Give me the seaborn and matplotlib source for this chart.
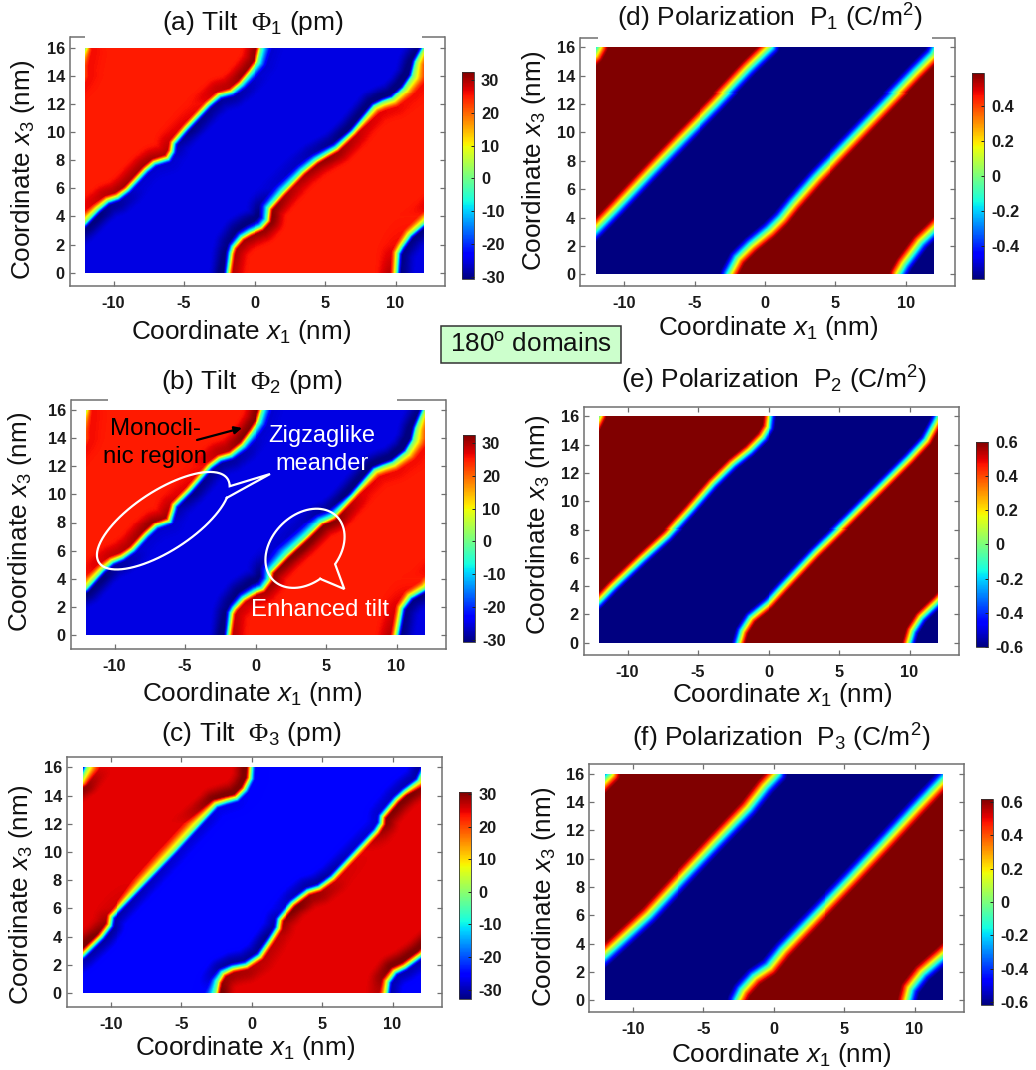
import numpy as np
import pandas as pd
import matplotlib
matplotlib.use("Agg")
import matplotlib.pyplot as plt
import seaborn as sns

# NOTE ON THE DATA: the values below are hand readings from the reference picture:
# domain-wall traces (x1 at each x3), shoulder extrema and wall half-widths.
# The heatmap cells are NOT individual readings: they are reconstructed from those traces
# with a distance-to-wall profile, since a continuous field cannot be read cell by cell.
# Wall A has red on its left, wall B has blue on its left. Both wrap with period 24 nm,
# so A's part in the lower right corner is written as x1 - 24, B's top-left part as x1 + 24.

X1_TICKS = [-10, -5, 0, 5, 10]
X3_TICKS = [0, 2, 4, 6, 8, 10, 12, 14, 16]
SHOULDER_X3 = [0, 2, 4, 6, 8, 10, 12, 14, 16]
RAMP_T = [0, 0.25, 0.5, 0.75, 1.0]
RAMP_F = [0, 0.3, 0.6, 0.85, 1.0]

# (a) Phi1
A1_X3 = [0, 1.4, 1.85, 2.7, 3.55, 4.5, 5.1, 5.35, 5.9, 7.3, 7.8, 8.1, 8.6, 9.2, 10.25, 11.9, 12.6, 12.85, 13.45, 14.3, 15, 16]
A1_X1 = [-13.95, -13.85, -13.6, -13, -12, -11.1, -10.4, -9.7, -9, -7.7, -7.1, -6.15, -5.85, -5.75, -4.85, -3.3, -2.5, -1.65, -0.95, -0.25, 0.25, 0.47]
B1_X3 = [0, 1.4, 1.85, 2.55, 2.9, 3.27, 3.75, 4.6, 5.75, 7.2, 8, 8.5, 8.85, 10, 11.8, 12.1, 12.35, 13.1, 14, 15, 16]
B1_X1 = [-1.9, -1.7, -1.55, -0.95, -0.35, 0.47, 0.9, 1, 2, 3.4, 4.37, 5.2, 5.8, 7, 8.5, 9.1, 9.8, 10.6, 11.2, 11.45, 12]
A1_RED = [29, 26, 25, 30, 30, 27, 26, 31, 31]
A1_BLUE = [-30, -30, -31, -26, -26, -30, -29, -26, -26]
B1_RED = [29, 30, 32, 29, 31, 28, 26, 26, 26]
B1_BLUE = [-32, -30, -31, -26, -27, -31, -31, -32, -30]
A1_RW = [.4, .4, .55, .3, .3, .3, .3, .3, .3]
A1_BW = [.3, .3, .3, .3, .3, .3, .3, .5, .7]
B1_RW = [.3, .3, .3, .3, .3, .3, .6, .9, .4]
B1_BW = [.3, .35, .55, .6, .5, .3, .3, .3, .3]

# (b) Phi2
A2_X3 = [0, 1.9, 2.7, 3.3, 4.6, 5.2, 5.5, 6.05, 7.1, 7.75, 8.1, 8.9, 9.25, 10.3, 12, 12.55, 12.8, 13.5, 14.45, 15.15, 16]
A2_X1 = [-14, -13.65, -13.05, -12, -10.85, -10.15, -9.45, -8.7, -7.75, -7.05, -6.1, -5.85, -5.75, -4.7, -3.25, -2.55, -1.75, -0.9, -0.2, 0.25, 0.5]
B2_X3 = [0, 1.55, 1.9, 2.6, 3.1, 3.3, 3.9, 4.5, 5.7, 7, 8.05, 8.45, 9.95, 11.75, 12, 12.25, 13, 13.85, 14.7, 16]
B2_X1 = [-1.95, -1.75, -1.55, -0.9, -0.05, 0.5, 0.95, 1.05, 2.2, 3.6, 4.65, 5.5, 6.9, 8.45, 9.05, 9.75, 10.7, 11.2, 11.4, 11.95]
A2_RED = [29, 27, 25, 29, 31, 27, 26, 32, 32]
A2_BLUE = [-30, -30, -31, -26, -26, -30, -29, -26, -26]
B2_RED = [29, 28, 31, 33, 32, 27, 26, 26, 26]
B2_BLUE = [-32, -30, -31, -26, -27, -31, -31, -32, -30]
A2_RW = [.4, .4, .55, .3, .3, .3, .3, .3, .3]
A2_BW = [.3, .3, .3, .3, .3, .3, .3, .5, .6]
B2_RW = [.3, .3, .3, .3, .3, .3, .6, .9, .4]
B2_BW = [.3, .35, .55, .8, .7, .3, .3, .3, .3]

# (c) Phi3
A3_X3 = [0, 0.8, 1.5, 1.85, 2.7, 4, 4.8, 5.4, 6.5, 10, 13.35, 13.6, 13.8, 14.4, 15.2, 16]
A3_X1 = [-14.45, -14.35, -13.85, -13.15, -12, -10.7, -10.1, -10, -8.95, -5.6, -2.55, -1.8, -1.1, -0.5, -0.1, -0.05]
B3_X3 = [0, 0.8, 1.4, 1.75, 1.95, 2.6, 3.65, 4.6, 5.2, 6.35, 7.2, 7.45, 8.15, 11.45, 12, 12.5, 13.7, 14.25, 15, 16]
B3_X1 = [-2.55, -2.4, -2.05, -1.35, -0.4, 0.55, 1.25, 1.85, 1.95, 2.9, 4, 4.8, 5.75, 8.85, 9.2, 9.25, 10.25, 10.85, 11.85, 12.3]
A3_RED = [27, 31, 31, 26, 25, 25, 25, 31, 31]
A3_BLUE = [-30, -30, -31, -30, -29, -28, -28, -26, -26]
B3_RED = [31, 27, 27, 31, 26, 25, 30, 31, 25]
B3_BLUE = [-25, -31, -32, -28, -31, -29, -28, -29, -31]
A3_RW = [.45, .35, .3, .3, .6, .7, .7, .3, .3]
A3_BW = [.3, .3, .3, .3, .3, .3, .3, .3, .3]
B3_RW = [.3, .3, .3, .3, .3, .3, .3, .3, .8]
B3_BW = [.7, .35, .3, .3, .3, .3, .3, .3, .3]

# (d) P1
A4_X3 = [0, 0.7, 1.5, 2.25, 3.15, 4.6, 7.1, 9.55, 12, 14.5, 15.55, 16]
A4_X1 = [-14.5, -14.1, -13.5, -12.95, -12, -10.6, -8.25, -5.9, -3.5, -1.15, -0.07, 0.4]
B4_X3 = [0, 1.13, 2.06, 3.12, 3.95, 5, 6.85, 9.3, 11.8, 14.25, 15.45, 16]
B4_X1 = [-2.54, -1.94, -1, 0.3, 1.13, 1.97, 3.6, 5.95, 8.35, 10.7, 11.9, 12.2]

# (e) P2
A5_X3 = [0, 0.85, 1.8, 2.95, 4, 6, 7.59, 9.3, 11.2, 12.6, 13.55, 14.5, 15.2, 16]
A5_X1 = [-14.05, -13.8, -13.2, -12, -11, -8.9, -7.15, -5.6, -3.96, -2.55, -1.36, -0.42, 0, 0.1]
B5_X3 = [0, 0.85, 1.8, 2.85, 3.9, 6.4, 8.75, 11.1, 13, 14.3, 15.5, 16]
B5_X1 = [-2.15, -1.9, -1.3, 0, 0.95, 3.3, 5.7, 8.05, 9.95, 11.15, 11.8, 12.05]

# (f) P3
A6_X3 = [0, 0.8, 1.9, 3.15, 6, 8.6, 11.1, 13.55, 15.1, 16]
A6_X1 = [-14.5, -14.3, -13.45, -12, -8.9, -6.5, -4.15, -1.8, -0.6, 0.25]
B6_X3 = [0, 0.7, 1.65, 2.35, 3.55, 6, 8.5, 11, 13.55, 15.45, 16]
B6_X1 = [-2.6, -2.25, -1.4, -0.35, 0.6, 2.95, 5.35, 7.7, 10.05, 11.85, 12.4]

TILT_TICKS = [-30, -20, -10, 0, 10, 20, 30]
POL_TICKS = [-0.6, -0.4, -0.2, 0, 0.2, 0.4, 0.6]
POL_TICK_LABELS = ["-0.6", "-0.4", "-0.2", "0", "0.2", "0.4", "0.6"]
POL_D_TICKS = [-0.4, -0.2, 0, 0.2, 0.4]
POL_D_LABELS = ["-0.4", "-0.2", "0", "0.2", "0.4"]
TILT_LABELS = ["-30", "-20", "-10", "0", "10", "20", "30"]

W, H = 1036, 1070
NC, NR = 340, 226
TILT_WIDTH_SCALE = 1.15

plt.rcParams.update({
    "font.family": ["Liberation Sans", "DejaVu Sans"],
    "mathtext.fontset": "custom",
    "mathtext.rm": "Liberation Sans",
    "mathtext.it": "Liberation Sans:italic",
    "mathtext.tt": "Liberation Serif",
})
fig = plt.figure(figsize=(W / 100, H / 100), dpi=100, facecolor="white")


def px_box(l, t, r, b):
    return [l / W, 1 - b / H, (r - l) / W, (b - t) / H]


def wall_distance(xx, zz, wx3, wx1):
    best = np.full(xx.shape, np.inf)
    x3 = np.asarray(wx3, float)
    x1 = np.asarray(wx1, float)
    for shift in (-24, 0, 24):
        for i in range(len(x3) - 1):
            ax, az = x1[i] + shift, x3[i]
            bx, bz = x1[i + 1] + shift, x3[i + 1]
            dx, dz = bx - ax, bz - az
            t = np.clip(((xx - ax) * dx + (zz - az) * dz) / (dx * dx + dz * dz), 0, 1)
            d = np.hypot(xx - ax - t * dx, zz - az - t * dz)
            best = np.minimum(best, d)
    return best


def side_value(dist, width, peak, base, reach=1.1):
    t = dist / width
    inner = peak * np.interp(t, RAMP_T, RAMP_F)
    s = np.clip((dist - width) / reach, 0, 1)
    outer = peak + (base - peak) * s * s * (3 - 2 * s)
    return np.where(t < 1, inner, outer)


def build_field(a, b, plateau, shoulders=None, width=0.5):
    x = -12 + (np.arange(NC) + 0.5) * 24 / NC
    z = (np.arange(NR) + 0.5) * 16 / NR
    xx, zz = np.meshgrid(x, z)
    da = wall_distance(xx, zz, a[0], a[1])
    db = wall_distance(xx, zz, b[0], b[1])
    wrap = lambda v: (v + 12) % 24 - 12
    sa = wrap(xx - np.interp(zz, a[0], a[1]))
    sb = wrap(xx - np.interp(zz, b[0], b[1]))
    use_a = da < db
    red = np.where(use_a, sa < 0, sb > 0)
    dist = np.where(use_a, da, db)
    if shoulders is None:
        vr = side_value(dist, width, plateau, plateau)
        vb = side_value(dist, width, -plateau, -plateau)
        return pd.DataFrame(np.where(red, vr, vb), index=z, columns=x)
    g = SHOULDER_X3
    ar, ab, br, bb, arw, abw, brw, bbw = shoulders
    ip = lambda q: np.interp(zz, g, q)
    pr = np.where(use_a, ip(ar), ip(br))
    pb = np.where(use_a, ip(ab), ip(bb))
    wr = np.where(use_a, ip(arw), ip(brw)) * TILT_WIDTH_SCALE
    wb = np.where(use_a, ip(abw), ip(bbw)) * TILT_WIDTH_SCALE
    vr = side_value(dist, wr, pr, plateau)
    vb = side_value(dist, wb, pb, -plateau)
    return pd.DataFrame(np.where(red, vr, vb), index=z, columns=x)


def draw_panel(field, img, frame, cbar, vlim, cticks, clabels, title, xlab, ylab, top_gaps=None):
    ax = fig.add_axes(px_box(*frame))
    cax = fig.add_axes(px_box(*cbar))
    sns.heatmap(field, ax=ax, cbar_ax=cax, cmap="jet", vmin=vlim[0], vmax=vlim[1],
                xticklabels=False, yticklabels=False, rasterized=True)
    il, it, ir, ib = img
    cx = lambda p: (p - il) / (ir - il) * NC
    cy = lambda p: (ib - p) / (ib - it) * NR
    ax.set_xlim(cx(frame[0]), cx(frame[2]))
    ax.set_ylim(cy(frame[3]), cy(frame[1]))
    ax.set_xticks([(v + 12) / 24 * NC for v in X1_TICKS])
    ax.set_xticklabels([str(v) for v in X1_TICKS])
    ax.set_yticks([v / 16 * NR for v in X3_TICKS])
    ax.set_yticklabels([str(v) for v in X3_TICKS], rotation=0)
    has_top = top_gaps is None
    ax.tick_params(axis="x", direction="in", length=3.6, width=0.9, color="#707070", top=has_top,
                   bottom=True, pad=7.5, labelsize=11.8, labelcolor="#1a1a1a")
    ax.tick_params(axis="y", direction="in", length=3.6, width=0.9, color="#707070", left=True,
                   right=True, pad=3.5, labelsize=11.8, labelcolor="#1a1a1a")
    for lb in ax.get_xticklabels() + ax.get_yticklabels():
        lb.set_fontweight("bold")
    for name, sp in ax.spines.items():
        sp.set_visible(True)
        sp.set_color("#707070")
        sp.set_linewidth(1.1)
    if top_gaps is not None:
        ax.spines["top"].set_visible(False)
        for s0, s1 in top_gaps:
            over.plot([s0, s1], [frame[1], frame[1]], color="#707070", lw=1.1, solid_capstyle="butt")
    ax.set_xlabel(xlab[0], fontsize=18.8, ha="center", va="center", color="#111111")
    ax.xaxis.set_label_coords(xlab[1] / W, 1 - xlab[2] / H, transform=fig.transFigure)
    ax.set_ylabel(ylab[0], fontsize=18.8, ha="center", va="center", color="#111111")
    ax.yaxis.set_label_coords(ylab[1] / W, 1 - ylab[2] / H, transform=fig.transFigure)
    fig.text(title[1] / W, 1 - title[2] / H, title[0], fontsize=19, ha="center", va="center", color="#111111")
    cb = ax.collections[0].colorbar
    cb.set_ticks(cticks)
    cb.set_ticklabels(clabels)
    cax.tick_params(direction="in", length=2.5, width=0.7, color="#222222", pad=5, labelsize=11.8,
                    labelcolor="#1a1a1a")
    for lb in cax.get_yticklabels():
        lb.set_fontweight("bold")
    cb.outline.set_edgecolor("#333333")
    cb.outline.set_linewidth(0.6)
    cb.outline.set_visible(True)


over = fig.add_axes([0, 0, 1, 1], facecolor="none", zorder=10)
over.set_xlim(0, W)
over.set_ylim(H, 0)
over.axis("off")

XL = r"Coordinate $\mathit{x}_1$ (nm)"
YL = r"Coordinate $\mathit{x}_3$ (nm)"

draw_panel(build_field((A1_X3, A1_X1), (B1_X3, B1_X1), 25,
                       (A1_RED, A1_BLUE, B1_RED, B1_BLUE, A1_RW, A1_BW, B1_RW, B1_BW)),
           (85.3, 47.7, 423.7, 272.7), (69.7, 37, 445, 286), (462, 72, 474, 279), (-30.6, 32.4),
           TILT_TICKS, TILT_LABELS, (r"(a) Tilt  $\mathtt{\Phi}_1$ (pm)", 253, 23),
           (XL, 241, 332), (YL, 23, 170), [(69.7, 85), (422, 445)])
draw_panel(build_field((A2_X3, A2_X1), (B2_X3, B2_X1), 25,
                       (A2_RED, A2_BLUE, B2_RED, B2_BLUE, A2_RW, A2_BW, B2_RW, B2_BW)),
           (86.3, 410, 424.7, 635), (70.7, 399.7, 446, 649), (462.7, 435, 475, 642), (-30.6, 32.4),
           TILT_TICKS, TILT_LABELS, (r"(b) Tilt  $\mathtt{\Phi}_2$ (pm)", 252, 382),
           (XL, 252.5, 694), (YL, 20, 522), [(70.7, 107.7), (396.7, 446)])
draw_panel(build_field((A3_X3, A3_X1), (B3_X3, B3_X1), 25,
                       (A3_RED, A3_BLUE, B3_RED, B3_BLUE, A3_RW, A3_BW, B3_RW, B3_BW)),
           (82.7, 767.3, 420.7, 993), (66.7, 756.7, 442.3, 1006.7), (459, 792.3, 471.3, 999.3), (-33, 30.6),
           TILT_TICKS, TILT_LABELS, (r"(c) Tilt  $\mathtt{\Phi}_3$ (pm)", 251, 734),
           (XL, 245, 1048), (YL, 21, 895))
draw_panel(build_field((A4_X3, A4_X1), (B4_X3, B4_X1), 0.62, width=0.72),
           (596.3, 47.3, 933.7, 274.3), (580, 37.7, 955, 286), (971.7, 73, 984, 278.7), (-0.59, 0.59),
           POL_D_TICKS, POL_D_LABELS, (r"(d) Polarization  P$_1$ (C/m$^2$)", 770, 18),
           (XL, 767.7, 328), (YL, 534, 161), [(580, 597.7), (932, 955)])
draw_panel(build_field((A5_X3, A5_X1), (B5_X3, B5_X1), 0.62, width=0.52),
           (599.3, 416.3, 937.7, 642.7), (583.7, 406.7, 959.3, 654.7), (976, 441.7, 988.3, 647.3), (-0.6, 0.6),
           POL_TICKS, POL_TICK_LABELS, (r"(e) Polarization  P$_2$ (C/m$^2$)", 774, 380),
           (XL, 781.7, 695), (YL, 538, 525))
draw_panel(build_field((A6_X3, A6_X1), (B6_X3, B6_X1), 0.62, width=0.72),
           (605, 773.7, 942.7, 1000.3), (589.3, 763.7, 964, 1012), (980.7, 799, 993, 1005), (-0.615, 0.615),
           POL_TICKS, POL_TICK_LABELS, (r"(f) Polarization  P$_3$ (C/m$^2$)", 781, 738),
           (XL, 781.5, 1055), (YL, 544, 897))


def callout(cx, cy, a, b, deg, t0, t1, tip):
    th = np.radians(deg)
    u = np.array([np.cos(th), -np.sin(th)])
    v = np.array([np.sin(th), np.cos(th)])
    t = np.radians(np.linspace(t1, t0 + 360, 240))
    xs = cx + a * np.cos(t) * u[0] + b * np.sin(t) * v[0]
    ys = cy + a * np.cos(t) * u[1] + b * np.sin(t) * v[1]
    xs = np.r_[xs, tip[0], xs[0]]
    ys = np.r_[ys, tip[1], ys[0]]
    over.plot(xs, ys, color="white", lw=1.6, solid_joinstyle="miter")


callout(163.3, 520.7, 76.7, 30, 33, 14, 31, (270, 474))
callout(305, 548.3, 45, 33.3, 45, 77, 104, (344.3, 589))

over.text(155, 429, "Monocli-", fontsize=17.3, color="black", ha="center", va="center")
over.text(155, 457, "nic region", fontsize=17.3, color="black", ha="center", va="center")
over.annotate("", xy=(242, 428), xytext=(197, 440),
              arrowprops=dict(arrowstyle="-|>", color="black", lw=1.6, mutation_scale=11, shrinkA=0, shrinkB=0))
over.text(322, 436, "Zigzaglike", fontsize=17, color="white", ha="center", va="center")
over.text(322, 464, "meander", fontsize=17, color="white", ha="center", va="center")
over.text(320, 610, "Enhanced tilt", fontsize=17.2, color="white", ha="center", va="center")

over.text(531, 344.5, r"180$^{\mathrm{o}}$ domains", fontsize=18.8, color="#111111", ha="center", va="center",
          zorder=3)
over.add_patch(plt.Rectangle((440.7, 326), 180.3, 36.7, fc="#ccffcc", ec="#333333", lw=1.1, zorder=1))

fig.savefig("out.png", dpi=100)
